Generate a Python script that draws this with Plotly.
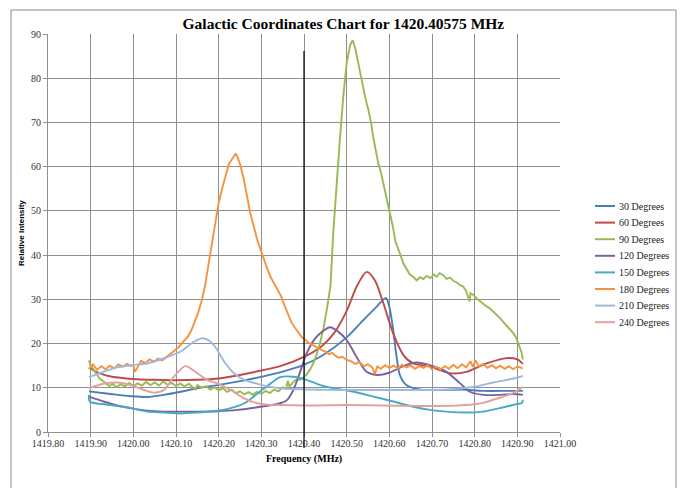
import plotly.graph_objects as go

# ---- spectra: frequency (MHz) and relative intensity for each galactic longitude ----
FREQ_30 = [1419.896, 1419.947, 1419.994, 1420.033, 1420.072, 1420.111, 1420.150, 1420.197,
           1420.244, 1420.291, 1420.344, 1420.398, 1420.445, 1420.500, 1420.539, 1420.570,
           1420.592, 1420.600, 1420.608, 1420.617, 1420.625, 1420.640, 1420.670, 1420.720,
           1420.770, 1420.820, 1420.880, 1420.913]
INT_30 = [9.2, 8.6, 8.1, 7.9, 8.4, 9.1, 9.9, 10.6,
          11.4, 12.3, 13.5, 15.1, 17.4, 21.4, 25.3, 28.3,
          30.3, 28.3, 23.8, 17.0, 12.8, 10.6, 9.6, 9.5,
          9.6, 9.3, 9.3, 9.3]

FREQ_60 = [1419.896, 1419.920, 1419.950, 1420.000, 1420.050, 1420.100, 1420.150, 1420.200,
           1420.250, 1420.300, 1420.344, 1420.400, 1420.440, 1420.470, 1420.500, 1420.523,
           1420.547, 1420.566, 1420.586, 1420.609, 1420.633, 1420.656, 1420.695, 1420.742,
           1420.781, 1420.828, 1420.875, 1420.900, 1420.913]
INT_60 = [14.6, 13.3, 12.5, 12.0, 11.8, 11.7, 11.8, 12.1,
          12.9, 13.9, 14.9, 17.0, 19.3, 22.3, 27.4, 32.8,
          36.2, 34.3, 29.1, 22.3, 17.4, 15.5, 14.8, 13.3,
          13.6, 15.5, 16.7, 16.4, 15.4]

FREQ_90 = [1419.896, 1419.900, 1419.905, 1419.910, 1419.915, 1419.920, 1419.928, 1419.936,
           1419.944, 1419.952, 1419.960, 1419.970, 1419.980, 1419.990, 1420.000, 1420.010,
           1420.020, 1420.030, 1420.040, 1420.050, 1420.060, 1420.070, 1420.080, 1420.090,
           1420.100, 1420.110, 1420.120, 1420.130, 1420.140, 1420.145, 1420.150, 1420.160,
           1420.170, 1420.180, 1420.190, 1420.200, 1420.210, 1420.220, 1420.230, 1420.240,
           1420.250, 1420.260, 1420.270, 1420.280, 1420.290, 1420.300, 1420.310, 1420.320,
           1420.330, 1420.340, 1420.350, 1420.358, 1420.362, 1420.366, 1420.374, 1420.382,
           1420.390, 1420.398, 1420.406, 1420.414, 1420.422, 1420.430, 1420.438, 1420.446,
           1420.454, 1420.462, 1420.469, 1420.476, 1420.484, 1420.492, 1420.500, 1420.508,
           1420.514, 1420.520, 1420.527, 1420.533, 1420.539, 1420.545, 1420.551, 1420.557,
           1420.562, 1420.568, 1420.574, 1420.580, 1420.586, 1420.594, 1420.602, 1420.608,
           1420.614, 1420.621, 1420.627, 1420.633, 1420.640, 1420.648, 1420.656, 1420.664,
           1420.672, 1420.680, 1420.688, 1420.696, 1420.704, 1420.711, 1420.718, 1420.727,
           1420.734, 1420.742, 1420.750, 1420.758, 1420.766, 1420.773, 1420.780, 1420.788,
           1420.790, 1420.797, 1420.805, 1420.812, 1420.820, 1420.828, 1420.836, 1420.844,
           1420.852, 1420.860, 1420.867, 1420.875, 1420.883, 1420.891, 1420.898, 1420.906,
           1420.910, 1420.913]
INT_90 = [16.2, 15.0, 14.4, 13.6, 12.9, 12.2, 11.6, 11.0,
          10.4, 10.9, 10.1, 10.8, 10.3, 11.1, 10.4, 11.0,
          10.5, 11.3, 10.6, 11.2, 10.5, 11.4, 10.7, 11.1,
          10.4, 11.0, 10.3, 10.9, 10.1, 9.6, 10.6, 10.0,
          10.4, 9.6, 10.1, 9.4, 9.9, 9.1, 9.6, 8.8,
          9.2, 8.5, 9.0, 8.4, 9.1, 8.6, 9.3, 8.8,
          9.6, 9.2, 10.1, 9.8, 11.6, 10.3, 11.2, 11.9,
          11.8, 12.3, 13.0, 14.1, 15.6, 17.6, 20.3, 23.6,
          28.0, 33.0, 45.7, 56.3, 66.0, 75.8, 83.4, 87.5,
          88.6, 86.8, 83.4, 80.4, 77.3, 75.0, 72.8, 70.0,
          66.8, 63.6, 60.8, 58.8, 56.2, 53.2, 49.8, 46.6,
          43.2, 41.6, 39.8, 38.1, 36.9, 35.6, 35.1, 34.3,
          35.0, 34.6, 35.3, 34.8, 35.6, 35.1, 35.9, 35.4,
          34.6, 34.9, 34.2, 33.8, 33.2, 32.9, 31.9, 29.5,
          31.4, 31.0, 30.2, 29.6, 29.1, 28.4, 27.9, 27.2,
          26.6, 25.7, 24.9, 24.0, 23.2, 22.3, 21.2, 19.3,
          18.0, 16.4]

FREQ_120 = [1419.896, 1419.930, 1419.962, 1419.994, 1420.033, 1420.072, 1420.111, 1420.150,
            1420.197, 1420.244, 1420.291, 1420.344, 1420.360, 1420.375, 1420.390, 1420.406,
            1420.430, 1420.461, 1420.480, 1420.500, 1420.523, 1420.547, 1420.570, 1420.600,
            1420.633, 1420.664, 1420.695, 1420.734, 1420.766, 1420.789, 1420.820, 1420.860,
            1420.891, 1420.913]
INT_120 = [8.0, 6.9, 6.0, 5.4, 4.8, 4.6, 4.6, 4.6,
           4.7, 5.0, 5.6, 6.5, 7.2, 9.5, 13.3, 17.8,
           21.6, 23.7, 22.7, 20.8, 17.0, 13.6, 12.9, 13.4,
           14.9, 15.7, 15.1, 13.6, 11.0, 9.1, 8.4, 8.4,
           8.6, 8.4]

FREQ_150 = [1419.896, 1419.898, 1419.947, 1419.994, 1420.033, 1420.072, 1420.111, 1420.150,
            1420.197, 1420.228, 1420.260, 1420.291, 1420.322, 1420.344, 1420.375, 1420.406,
            1420.438, 1420.469, 1420.516, 1420.563, 1420.609, 1420.656, 1420.695, 1420.734,
            1420.781, 1420.820, 1420.859, 1420.898, 1420.911, 1420.913]
INT_150 = [8.4, 6.9, 6.1, 5.4, 4.6, 4.4, 4.2, 4.4,
           4.8, 5.4, 6.5, 8.7, 11.0, 12.4, 12.5, 11.8,
           10.6, 9.9, 9.1, 8.0, 6.9, 5.7, 5.0, 4.6,
           4.4, 4.6, 5.4, 6.3, 6.6, 7.3]

FREQ_180 = [1419.896, 1419.905, 1419.915, 1419.925, 1419.935, 1419.945, 1419.955, 1419.965,
            1419.975, 1419.985, 1419.995, 1420.000, 1420.004, 1420.010, 1420.018, 1420.028,
            1420.038, 1420.048, 1420.058, 1420.068, 1420.078, 1420.088, 1420.096, 1420.104,
            1420.112, 1420.120, 1420.128, 1420.136, 1420.144, 1420.152, 1420.160, 1420.168,
            1420.176, 1420.184, 1420.192, 1420.200, 1420.208, 1420.216, 1420.224, 1420.232,
            1420.240, 1420.244, 1420.250, 1420.258, 1420.266, 1420.274, 1420.282, 1420.290,
            1420.298, 1420.306, 1420.314, 1420.322, 1420.330, 1420.338, 1420.346, 1420.354,
            1420.362, 1420.370, 1420.378, 1420.386, 1420.394, 1420.402, 1420.410, 1420.418,
            1420.426, 1420.434, 1420.442, 1420.450, 1420.458, 1420.466, 1420.474, 1420.482,
            1420.490, 1420.500, 1420.510, 1420.520, 1420.530, 1420.540, 1420.550, 1420.560,
            1420.566, 1420.572, 1420.580, 1420.590, 1420.600, 1420.610, 1420.620, 1420.630,
            1420.640, 1420.650, 1420.660, 1420.670, 1420.680, 1420.690, 1420.700, 1420.710,
            1420.720, 1420.730, 1420.740, 1420.750, 1420.760, 1420.770, 1420.780, 1420.790,
            1420.796, 1420.802, 1420.810, 1420.820, 1420.830, 1420.840, 1420.850, 1420.860,
            1420.870, 1420.880, 1420.890, 1420.900, 1420.913]
INT_180 = [14.2, 15.3, 14.1, 14.9, 14.2, 15.0, 14.4, 15.3,
           14.8, 15.4, 14.9, 15.2, 13.6, 14.6, 16.1, 15.6,
           16.4, 15.9, 16.6, 16.2, 17.0, 17.6, 18.3, 19.0,
           19.8, 20.6, 21.6, 23.0, 24.8, 27.0, 29.6, 33.0,
           37.8, 42.5, 47.5, 51.8, 55.0, 58.0, 60.6, 61.8,
           63.0, 62.2, 60.6, 57.6, 53.2, 49.5, 46.6, 43.6,
           41.3, 38.9, 36.9, 35.0, 33.6, 32.3, 30.8, 28.7,
           26.6, 24.9, 23.7, 22.6, 21.5, 21.0, 20.2, 19.8,
           19.3, 19.0, 18.5, 18.2, 17.6, 17.9, 17.2, 16.8,
           17.0, 16.3, 16.0, 15.4, 15.8, 14.9, 15.3, 14.6,
           13.1, 14.8, 14.3, 15.1, 14.5, 15.0, 14.4, 15.2,
           14.6, 15.0, 14.3, 14.9, 14.5, 15.1, 14.2, 14.8,
           14.1, 14.9, 14.3, 15.2, 14.4, 15.3, 14.6, 16.0,
           14.7, 16.2, 14.9, 15.4, 14.5, 15.1, 14.4, 15.0,
           14.3, 14.9, 14.2, 14.8, 14.4]

FREQ_210 = [1419.896, 1419.930, 1419.962, 1419.994, 1420.033, 1420.072, 1420.111, 1420.142,
            1420.162, 1420.181, 1420.197, 1420.213, 1420.236, 1420.260, 1420.291, 1420.322,
            1420.344, 1420.420, 1420.500, 1420.580, 1420.660, 1420.740, 1420.797, 1420.844,
            1420.891, 1420.913]
INT_210 = [12.4, 13.6, 14.6, 15.1, 15.5, 16.7, 18.2, 20.4,
           21.2, 20.4, 18.5, 15.9, 13.3, 11.8, 10.9, 10.2,
           9.9, 9.6, 9.5, 9.5, 9.5, 9.6, 10.2, 11.2,
           12.1, 12.7]

FREQ_240 = [1419.896, 1419.930, 1419.962, 1419.994, 1420.025, 1420.048, 1420.072, 1420.095,
            1420.122, 1420.150, 1420.173, 1420.197, 1420.228, 1420.260, 1420.291, 1420.322,
            1420.344, 1420.420, 1420.500, 1420.580, 1420.660, 1420.740, 1420.780, 1420.820,
            1420.860, 1420.890, 1420.913]
INT_240 = [9.9, 10.9, 11.2, 10.6, 9.5, 8.9, 9.5, 12.5,
           14.9, 13.3, 11.8, 11.0, 9.5, 7.6, 6.5, 6.1,
           6.1, 6.0, 6.1, 6.0, 5.9, 5.9, 6.1, 6.6,
           7.8, 8.8, 10.2]

SERIES_NAMES = ["30 Degrees", "60 Degrees", "90 Degrees", "120 Degrees",
                "150 Degrees", "180 Degrees", "210 Degrees", "240 Degrees"]
SERIES_FREQ = [FREQ_30, FREQ_60, FREQ_90, FREQ_120, FREQ_150, FREQ_180, FREQ_210, FREQ_240]
SERIES_INT = [INT_30, INT_60, INT_90, INT_120, INT_150, INT_180, INT_210, INT_240]
SERIES_COLORS = ["#4A7EBB", "#BE4B48", "#98B954", "#7D60A0",
                 "#46AAC5", "#F69240", "#9DB9DE", "#E3A09E"]
NOISY = {"90 Degrees", "180 Degrees"}

MARKER_MHZ = 1420.40  # hand-placed marker near the HI rest frequency

SERIF = "Liberation Serif, Times New Roman, serif"
GRID = "#8f8f8f"

# plot-area geometry in pixels (used to place paper-referenced decorations)
W, H = 680, 488
PL, PR, PT, PB = 48, 560, 34, 432


def px_x(px):
    return (px - PL) / (PR - PL)


def px_y(py):
    return (PB - py) / (PB - PT)


fig = go.Figure()
for name, fx, fy, col in zip(SERIES_NAMES, SERIES_FREQ, SERIES_INT, SERIES_COLORS):
    fig.add_trace(go.Scatter(
        x=fx, y=fy, name=name, mode="lines", showlegend=False,
        line=dict(color=col, width=1.9,
                  shape="linear" if name in NOISY else "spline",
                  smoothing=0.8),
    ))

fig.update_layout(
    width=W, height=H,
    margin=dict(l=PL, r=W - PR, t=PT, b=H - PB),
    paper_bgcolor="white", plot_bgcolor="white",
    title=dict(text="Galactic Coordinates Chart for 1420.40575 MHz",
               x=0.505, xanchor="center", xref="container",
               y=1 - 24 / H, yanchor="middle", yref="container",
               font=dict(family=SERIF, size=15.5, color="black", weight="bold")),
    xaxis=dict(range=[1419.8, 1421.0], tick0=1419.8, dtick=0.1, tickformat=".2f",
               showgrid=True, gridcolor=GRID, gridwidth=1, zeroline=False,
               showline=True, linecolor=GRID, linewidth=1,
               ticks="outside", ticklen=4, tickcolor=GRID, ticklabelstandoff=-2,
               tickfont=dict(family=SERIF, size=10, color="#333")),
    yaxis=dict(range=[0, 90], tick0=0, dtick=10,
               showgrid=True, gridcolor=GRID, gridwidth=1, zeroline=False,
               showline=True, linecolor=GRID, linewidth=1,
               ticks="outside", ticklen=4, tickcolor=GRID,
               tickfont=dict(family=SERIF, size=10, color="#333")),
)

# axis titles
fig.add_annotation(text="Frequency (MHz)", xref="paper", yref="paper",
                   x=0.5, y=px_y(459), xanchor="center", yanchor="middle",
                   showarrow=False,
                   font=dict(family=SERIF, size=10, color="black", weight="bold"))
fig.add_annotation(text="Relative Intensity", xref="paper", yref="paper",
                   x=px_x(21), y=0.5, xanchor="center", yanchor="middle",
                   textangle=-90, showarrow=False,
                   font=dict(family="Liberation Sans, Arial, sans-serif", size=8,
                             color="black", weight="bold"))

# legend: short coloured key plus label, one row per series
LEG_TOP, LEG_STEP = 206, 16.6
for i, (name, col) in enumerate(zip(SERIES_NAMES, SERIES_COLORS)):
    yy = px_y(LEG_TOP + i * LEG_STEP)
    fig.add_shape(type="line", xref="paper", yref="paper",
                  x0=px_x(595), x1=px_x(615), y0=yy, y1=yy,
                  line=dict(color=col, width=2))
    fig.add_annotation(text=name, xref="paper", yref="paper",
                       x=px_x(617), y=yy, xanchor="left", yanchor="middle",
                       showarrow=False,
                       font=dict(family=SERIF, size=10, color="#222"))

# chart-area frame
fig.add_shape(type="rect", xref="paper", yref="paper",
              x0=px_x(11), x1=px_x(676), y0=px_y(520), y1=px_y(10),
              line=dict(color="#8a8a8a", width=1), fillcolor="rgba(0,0,0,0)", layer="below")

# vertical marker line
fig.add_shape(type="line", xref="x", yref="paper",
              x0=MARKER_MHZ, x1=MARKER_MHZ, y0=px_y(448), y1=px_y(51),
              line=dict(color="black", width=1.2))

fig.write_html("out.html")
